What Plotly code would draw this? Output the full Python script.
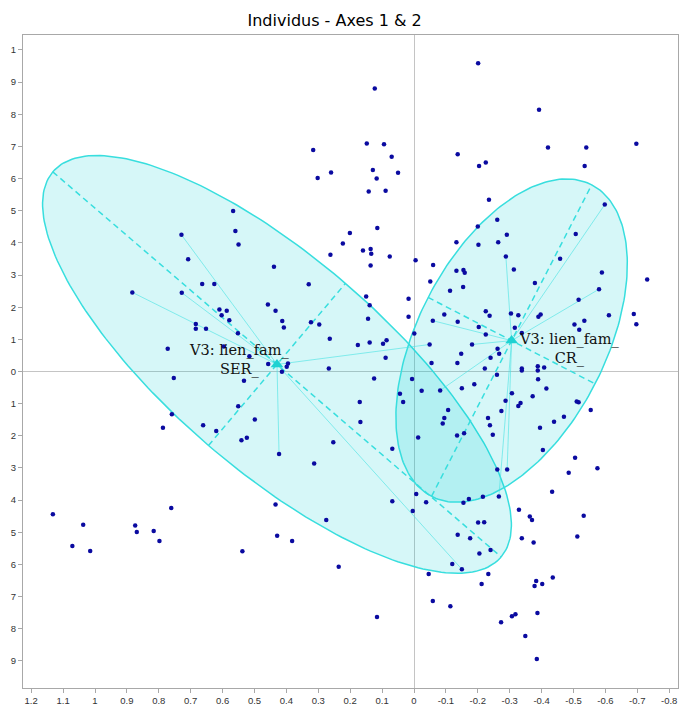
import numpy as np
import plotly.graph_objects as go

# Individual coordinates on factorial axes 1 (x) and 2 (y)
ind_x = [
    0.316, 0.302, 0.260, 0.567, 0.560, 0.550, 0.729, 0.708, 0.223, 0.201,
    0.262, 0.439, 0.664, 0.626, 0.330, 0.883, 0.728, 0.458, 0.434, 0.610,
    0.587, 0.603, 0.579, 0.413, 0.408, 0.323, 0.297, 0.684, 0.684, 0.652,
    0.552, 0.264, 0.772, 0.596, 0.516, 0.457, 0.395, 0.399, 0.414, 0.753,
    0.533, 0.267, 0.551, 0.759, 0.787, 0.661, 0.620, 0.499, 0.541, 0.524,
    0.253, 0.423, 0.313, 0.434, 0.275, 0.761, 1.132, 1.037, 0.874, 0.869,
    0.816, 0.798, 1.071, 1.015, 0.538, 0.429, 0.382, 0.236, -0.201, 0.123,
    -0.392, 0.148, 0.094, 0.070, 0.129, 0.050, 0.117, 0.142, 0.089, -0.137,
    -0.204, -0.225, -0.420, -0.540, -0.697, -0.535, -0.235, -0.261, -0.200, -0.291,
    -0.202, -0.264, -0.598, -0.507, -0.458, -0.133, -0.288, 0.115, 0.160, 0.136,
    0.134, 0.076, 0.136, -0.005, -0.060, -0.133, -0.155, -0.159, -0.313, -0.051,
    -0.113, -0.154, -0.379, -0.589, -0.580, -0.731, -0.516, 0.150, 0.139, 0.017,
    0.144, 0.017, -0.095, -0.137, -0.059, -0.203, -0.225, -0.237, -0.304, -0.327,
    -0.390, -0.397, -0.316, -0.338, -0.225, -0.001, -0.049, -0.182, 0.176, 0.139,
    0.097, 0.086, 0.089, -0.503, -0.518, -0.534, -0.611, -0.689, -0.697, -0.148,
    -0.240, -0.262, -0.267, -0.055, -0.136, -0.222, -0.338, -0.338, -0.388, -0.408,
    -0.388, 0.125, 0.006, -0.260, -0.389, -0.150, -0.189, -0.024, -0.082, -0.415,
    0.044, 0.034, 0.170, -0.307, -0.287, -0.372, -0.327, -0.334, -0.510, -0.516,
    -0.554, 0.168, -0.107, -0.095, -0.090, -0.274, -0.232, -0.238, -0.247, -0.470,
    -0.439, -0.395, -0.013, -0.135, -0.157, 0.068, -0.404, -0.505, -0.575, -0.485,
    -0.261, -0.292, -0.433, -0.007, -0.038, -0.155, -0.172, -0.216, -0.266, 0.068,
    0.004, -0.329, -0.363, -0.370, -0.532, -0.201, -0.220, -0.137, -0.176, -0.338,
    -0.375, -0.512, -0.240, -0.205, -0.120, -0.150, -0.046, -0.233, -0.212, -0.383,
    -0.378, -0.402, -0.435, -0.059, -0.114, 0.116, -0.307, -0.318, -0.387, -0.273,
    -0.349, -0.385,
]
ind_y = [
    0.689, 0.602, 0.619, 0.499, 0.437, 0.395, 0.425, 0.349, 0.398, 0.431,
    0.363, 0.326, 0.272, 0.272, 0.271, 0.246, 0.245, 0.208, 0.189, 0.193,
    0.189, 0.175, 0.159, 0.157, 0.137, 0.153, 0.146, 0.148, 0.133, 0.133,
    0.119, 0.102, 0.071, 0.078, 0.047, 0.023, 0.025, 0.015, -0.001, -0.020,
    -0.029, 0.009, -0.108, -0.133, -0.175, -0.167, -0.185, -0.149, -0.214, -0.206,
    -0.220, -0.257, -0.286, -0.414, -0.462, -0.425, -0.444, -0.477, -0.479, -0.499,
    -0.496, -0.527, -0.543, -0.558, -0.559, -0.511, -0.527, -0.607, 0.959, 0.880,
    0.814, 0.709, 0.707, 0.668, 0.627, 0.618, 0.600, 0.560, 0.562, 0.676,
    0.639, 0.650, 0.697, 0.697, 0.708, 0.639, 0.534, 0.472, 0.451, 0.425,
    0.394, 0.402, 0.519, 0.428, 0.351, 0.402, 0.358, 0.446, 0.376, 0.381,
    0.366, 0.358, 0.330, 0.346, 0.331, 0.313, 0.316, 0.307, 0.317, 0.280,
    0.251, 0.263, 0.275, 0.308, 0.256, 0.286, 0.223, 0.233, 0.206, 0.226,
    0.164, 0.170, 0.177, 0.155, 0.158, 0.138, 0.187, 0.173, 0.180, 0.175,
    0.170, 0.177, 0.136, 0.120, 0.115, 0.118, 0.084, 0.084, 0.082, 0.090,
    0.086, 0.097, 0.043, 0.146, 0.130, 0.158, 0.175, 0.179, 0.147, 0.055,
    0.043, 0.071, 0.055, 0.026, 0.026, 0.009, 0.009, 0.003, 0.016, 0.012,
    0.003, -0.022, -0.023, -0.010, -0.024, -0.052, -0.040, -0.060, -0.059, -0.053,
    -0.069, -0.095, -0.095, -0.068, -0.091, -0.077, -0.107, -0.098, -0.093, -0.096,
    -0.120, -0.157, -0.120, -0.145, -0.162, -0.123, -0.145, -0.167, -0.197, -0.141,
    -0.156, -0.175, -0.205, -0.199, -0.192, -0.240, -0.244, -0.268, -0.301, -0.315,
    -0.305, -0.305, -0.374, -0.381, -0.407, -0.408, -0.397, -0.390, -0.389, -0.404,
    -0.434, -0.430, -0.451, -0.462, -0.449, -0.470, -0.469, -0.508, -0.519, -0.519,
    -0.532, -0.513, -0.555, -0.566, -0.599, -0.615, -0.630, -0.630, -0.661, -0.652,
    -0.667, -0.661, -0.641, -0.714, -0.730, -0.764, -0.761, -0.755, -0.751, -0.780,
    -0.823, -0.894,
]

# Category centroids of V3 (lien_fam_)
group_labels = ["V3: lien_fam_<br>SER_", "V3: lien_fam_<br>CR_"]
centroid_x = [0.4295, -0.306]
centroid_y = [0.022, 0.096]

# Confidence ellipses: semi-major and semi-minor axis vectors
major_dx = [-0.7028, -0.2511]
major_dy = [-0.5988, 0.4845]
minor_dx = [-0.2147, -0.2618]
minor_dy = [0.2522, -0.1345]

# Individuals linked to each centroid (indices into ind_x / ind_y)
star_links = [
    [6, 15, 16, 51, 225, 136],
    [92, 114, 96, 124, 137, 168, 201, 208],
]

# Label offsets (pixels) relative to each centroid
label_shift_x = [-38, 57]
label_shift_y = [4, -8]

x_ticks = [round(1.2 - 0.1 * i, 1) for i in range(21)]
x_ticktext = ["1.2", "1.1", "1", "0.9", "0.8", "0.7", "0.6", "0.5", "0.4", "0.3",
              "0.2", "0.1", "0", "-0.1", "-0.2", "-0.3", "-0.4", "-0.5", "-0.6",
              "-0.7", "-0.8"]
y_ticks = [round(1 - 0.1 * i, 1) for i in range(20)]
y_ticktext = ["1", "9", "8", "7", "6", "5", "4", "3", "2", "1", "0",
              "1", "2", "3", "4", "5", "6", "7", "8", "9"]

EDGE = "rgb(56,222,222)"
FILL = "rgba(0,206,209,0.16)"
STAR = "rgba(70,226,226,0.6)"

fig = go.Figure()

t = np.linspace(0, 2 * np.pi, 241)
for g in range(len(centroid_x)):
    ex = centroid_x[g] + major_dx[g] * np.cos(t) + minor_dx[g] * np.sin(t)
    ey = centroid_y[g] + major_dy[g] * np.cos(t) + minor_dy[g] * np.sin(t)
    fig.add_trace(go.Scatter(x=ex, y=ey, mode="lines", fill="toself",
                             fillcolor=FILL, line=dict(color=EDGE, width=1.5),
                             hoverinfo="skip", showlegend=False))

for g in range(len(centroid_x)):
    cx, cy = centroid_x[g], centroid_y[g]
    sx, sy = [], []
    for k in star_links[g]:
        sx += [cx, ind_x[k], None]
        sy += [cy, ind_y[k], None]
    fig.add_trace(go.Scatter(x=sx, y=sy, mode="lines",
                             line=dict(color=STAR, width=1),
                             hoverinfo="skip", showlegend=False))
    ax = [cx - major_dx[g], cx + major_dx[g], None, cx - minor_dx[g], cx + minor_dx[g]]
    ay = [cy - major_dy[g], cy + major_dy[g], None, cy - minor_dy[g], cy + minor_dy[g]]
    fig.add_trace(go.Scatter(x=ax, y=ay, mode="lines",
                             line=dict(color=EDGE, width=1.5, dash="6px,4px"),
                             hoverinfo="skip", showlegend=False))

fig.add_trace(go.Scatter(x=ind_x, y=ind_y, mode="markers",
                         marker=dict(size=4.5, color="#0a0aa0"),
                         showlegend=False))

fig.add_trace(go.Scatter(x=centroid_x, y=centroid_y, mode="markers",
                         marker=dict(symbol="triangle-up", size=11, color="#1ed2d2"),
                         showlegend=False))

for g in range(len(centroid_x)):
    fig.add_annotation(x=centroid_x[g], y=centroid_y[g], text=group_labels[g],
                       showarrow=False, xanchor="center", yanchor="middle",
                       align="center", xshift=label_shift_x[g], yshift=label_shift_y[g],
                       font=dict(family="DejaVu Serif", size=14.5, color="#111111"))

axis_common = dict(showgrid=False, zeroline=True, zerolinecolor="#c4c4c4",
                   zerolinewidth=1, showline=True, linecolor="#a8a8a8",
                   linewidth=1, mirror=True, ticks="outside", ticklen=4,
                   tickcolor="#a8a8a8", tickmode="array",
                   tickfont=dict(family="Liberation Sans", size=9.5, color="#333333"))

fig.update_xaxes(range=[1.2257, -0.8276], tickvals=x_ticks, ticktext=x_ticktext,
                 **axis_common)
fig.update_yaxes(range=[-0.9845, 1.0466], tickvals=y_ticks, ticktext=y_ticktext,
                 **axis_common)

fig.update_layout(
    width=679, height=707,
    margin=dict(l=23, r=1, t=35, b=19),
    paper_bgcolor="white", plot_bgcolor="white",
    title=dict(text="Individus - Axes 1 & 2", x=0.4757, xref="paper",
               xanchor="center", y=1 - 20 / 707, yref="container", yanchor="middle",
               font=dict(family="DejaVu Sans", size=16, color="#000000")),
)

fig.write_html("out.html")
